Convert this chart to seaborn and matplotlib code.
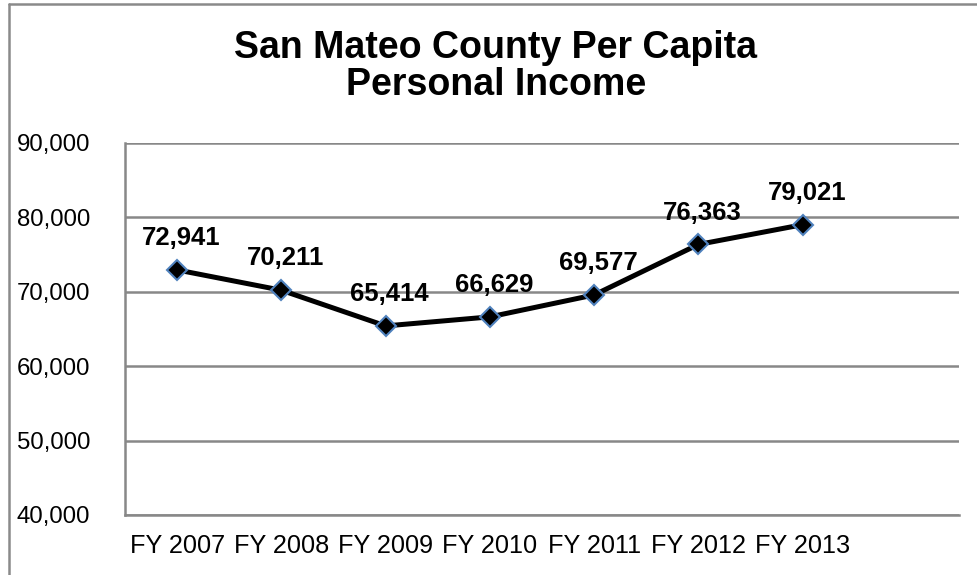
import matplotlib
matplotlib.use("Agg")
import matplotlib.pyplot as plt
from matplotlib.lines import Line2D
from matplotlib.ticker import FuncFormatter, MultipleLocator
import seaborn as sns
import pandas as pd

years = ["FY 2007", "FY 2008", "FY 2009", "FY 2010", "FY 2011", "FY 2012", "FY 2013"]
income = [72941, 70211, 65414, 66629, 69577, 76363, 79021]
title_lines = ["San Mateo County Per Capita", "Personal Income"]

sns.set_style("white")
plt.rcParams["font.family"] = ["Liberation Sans", "DejaVu Sans"]
plt.rcParams["text.color"] = "black"

df = pd.DataFrame({"year": years, "income": income})

fig = plt.figure(figsize=(9.77, 5.75), dpi=100)
ax = fig.add_axes([125 / 977, 1 - 515 / 575, (959 - 125) / 977, (515 - 143) / 575])

sns.lineplot(data=df, x="year", y="income", ax=ax, color="black", linewidth=3.6,
             marker="D", markersize=10, markerfacecolor="black",
             markeredgecolor="#4F81BD", markeredgewidth=1.5, sort=False, zorder=3)

for i, v in enumerate(income):
    ax.annotate(f"{v:,}", (i, v), xytext=(3, 23), textcoords="offset points",
                ha="center", va="center", fontsize=18.5, fontweight="bold", color="black")

ax.set_xlim(-0.5, 7.5)
ax.set_ylim(40000, 90000)
ax.yaxis.set_major_locator(MultipleLocator(10000))
ax.yaxis.set_major_formatter(FuncFormatter(lambda v, p: f"{int(v):,}"))
ax.set_xticks(range(len(years)))
ax.set_xticklabels(years)
ax.set_xlabel("")
ax.set_ylabel("")
ax.grid(axis="y", color="#888888", linewidth=1.8)
ax.grid(axis="x", visible=False)
ax.tick_params(axis="both", length=0, colors="black")
ax.tick_params(axis="y", pad=25, labelsize=17.3)
ax.tick_params(axis="x", pad=14, labelsize=18.2)
for side in ["top", "right"]:
    ax.spines[side].set_visible(False)
for side in ["left", "bottom"]:
    ax.spines[side].set_color("#888888")
    ax.spines[side].set_linewidth(1.8)

fig.text(496 / 977, 1 - 58 / 575, title_lines[0], ha="center", va="baseline",
         fontsize=27, fontweight="bold", color="black")
fig.text(496 / 977, 1 - 95 / 575, title_lines[1], ha="center", va="baseline",
         fontsize=27, fontweight="bold", color="black")

# outer chart frame (cropped: left and top edges visible)
fig.add_artist(Line2D([8.5 / 977, 8.5 / 977], [0, 1 - 3.5 / 575], transform=fig.transFigure,
                      color="#8a8a8a", linewidth=1.8))
fig.add_artist(Line2D([8.5 / 977, 1], [1 - 3.5 / 575, 1 - 3.5 / 575], transform=fig.transFigure,
                      color="#8a8a8a", linewidth=1.8))

fig.savefig("out.png", dpi=100)
